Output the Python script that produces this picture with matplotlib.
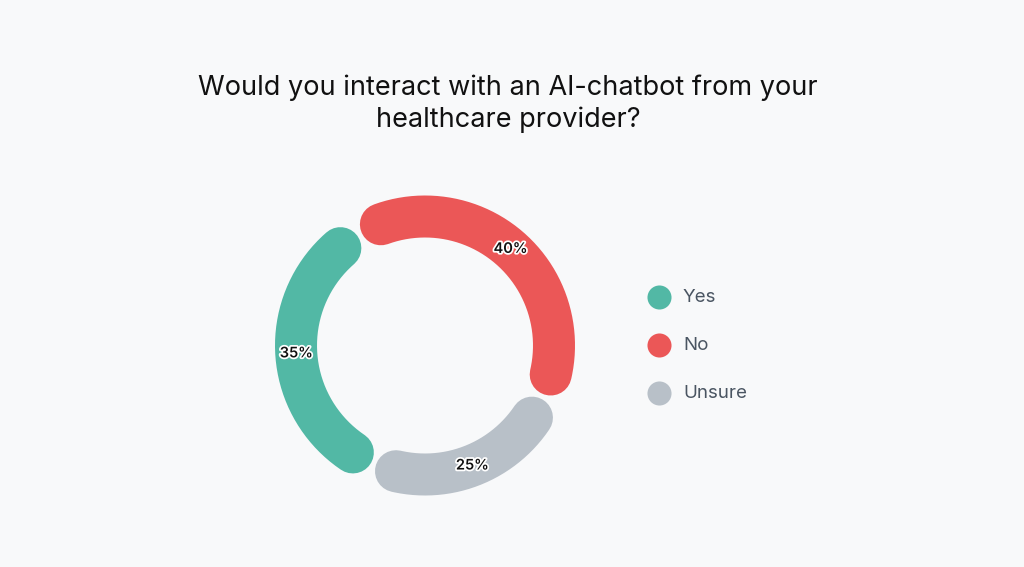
import numpy as np
import matplotlib.pyplot as plt
import matplotlib.patheffects as pe

# ---- data ----
labels = ["No", "Unsure", "Yes"]          # clockwise drawing order
values = [40, 25, 35]
colors = ["#EB5757", "#B8C0C8", "#52B8A5"]
legend_labels = ["Yes", "No", "Unsure"]
legend_colors = ["#52B8A5", "#EB5757", "#B8C0C8"]
title = "Would you interact with an AI-chatbot from your\nhealthcare provider?"

W, H = 1024, 567
fig = plt.figure(figsize=(W / 100, H / 100), dpi=100)
fig.patch.set_facecolor("#F8F9FA")
ax = fig.add_axes([0, 0, 1, 1])
ax.set_xlim(0, W)
ax.set_ylim(H, 0)
ax.set_aspect("equal")
ax.set_axis_off()
ax.set_facecolor("#F8F9FA")

# donut geometry (pixels)
cx, cy = 425, 345.5
r_mid = 129
ring_w = 42
gap_deg = 21
start = 120.5  # degrees, going clockwise

total = sum(values)
a = start
for lab, v, c in zip(labels, values, colors):
    span = v / total * 360
    a0 = a - gap_deg / 2
    a1 = a - span + gap_deg / 2
    th = np.radians(np.linspace(a0, a1, 200))
    ax.plot(cx + r_mid * np.cos(th), cy - r_mid * np.sin(th),
            color=c, lw=ring_w * 72 / 100, solid_capstyle="round", zorder=2)
    mid = np.radians(a - span / 2)
    ax.text(cx + r_mid * np.cos(mid), cy - r_mid * np.sin(mid), f"{v}%",
            ha="center", va="center", fontsize=10.5, family="Inter",
            fontweight="semibold", color="#111111", zorder=3,
            path_effects=[pe.withStroke(linewidth=2.5, foreground="white")])
    a -= span

# title
ax.text(508, 104, title, ha="center", va="center", fontsize=19.5,
        family="Inter", color="#111111", linespacing=1.25)

# legend
for i, (lab, c) in enumerate(zip(legend_labels, legend_colors)):
    y = 297 + i * 48
    ax.scatter([659], [y], s=300, color=c, zorder=3, linewidths=0)
    ax.text(683, y, lab, ha="left", va="center", fontsize=13.5,
            family="Inter", color="#4A5562")

fig.savefig("out.png", dpi=100, facecolor=fig.get_facecolor())
